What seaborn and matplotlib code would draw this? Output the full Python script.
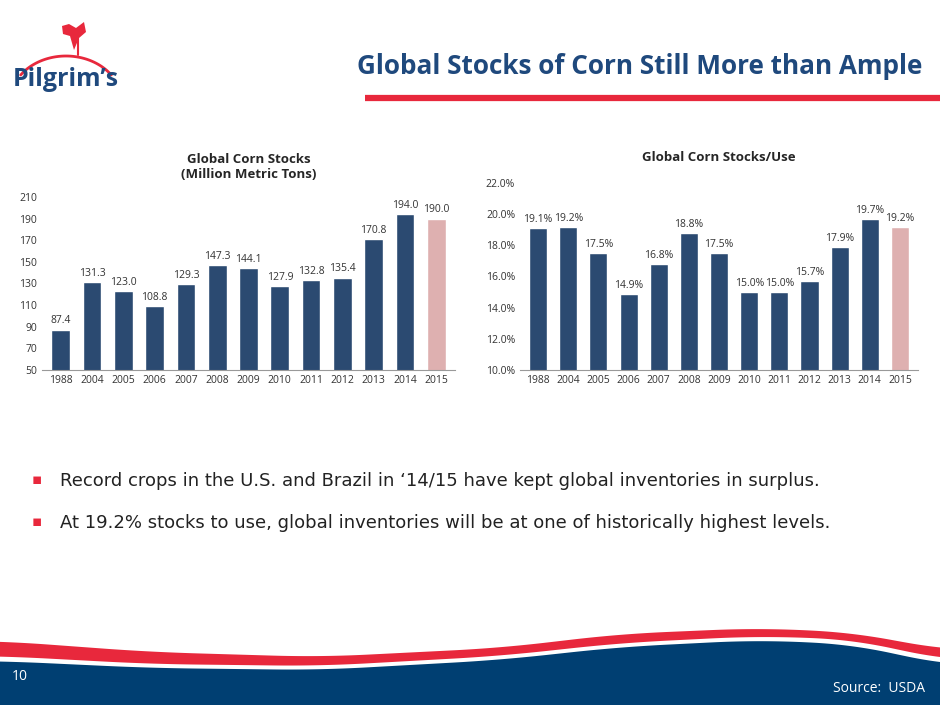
import matplotlib
matplotlib.use("Agg")
import matplotlib.pyplot as plt
import numpy as np
import pandas as pd
import seaborn as sns

years = ["1988", "2004", "2005", "2006", "2007", "2008", "2009", "2010", "2011", "2012", "2013", "2014", "2015"]
stocks = [87.4, 131.3, 123.0, 108.8, 129.3, 147.3, 144.1, 127.9, 132.8, 135.4, 170.8, 194.0, 190.0]
stocks_use = [19.1, 19.2, 17.5, 14.9, 16.8, 18.8, 17.5, 15.0, 15.0, 15.7, 17.9, 19.7, 19.2]

NAVY = "#1F497D"
PINK = "#E6A9A8"
RED = "#E8283C"
DARK = "#003F72"

sns.set_style("white")
plt.rcParams["font.family"] = ["Open Sans", "DejaVu Sans"]

fig = plt.figure(figsize=(9.4, 7.05), dpi=100)
W, H = 940, 705

# background decoration layer in pixel coords
bg = fig.add_axes([0, 0, 1, 1])
bg.set_xlim(0, W)
bg.set_ylim(H, 0)
bg.axis("off")
bg.plot([365, 940], [98, 98], color=RED, lw=4.5, solid_capstyle="butt")

xs = np.linspace(0, W, 400)
def smooth(px, py):
    y = np.interp(xs, px, py)
    k = np.ones(41) / 41
    return np.convolve(np.pad(y, 20, mode="edge"), k, mode="valid")

cx = [0, 150, 320, 500, 620, 760, 860, 940]
red_top = smooth(cx, [641, 652, 657, 648, 634, 628, 633, 650])
red_bot = smooth(cx, [656, 664, 666, 656, 643, 636, 640, 660])
blue_top = smooth(cx, [661, 668, 670, 660, 647, 640, 645, 665])
bg.fill_between(xs, red_top, red_bot, color=RED, lw=0)
bg.fill_between(xs, blue_top, H, color=DARK, lw=0)
bg.text(12, 676, "10", color="white", fontsize=10, va="center")
bg.text(925, 688, "Source:  USDA", color="white", fontsize=10, ha="right", va="center")

# title and logo
bg.text(922, 66, "Global Stocks of Corn Still More than Ample", color=NAVY, fontsize=18.8,
        fontweight="bold", ha="right", va="center")
bg.text(66, 80, "Pilgrim\u2019s", color=NAVY, fontsize=18, fontweight="bold", ha="center", va="center")
t = np.linspace(0.2 * np.pi, 0.8 * np.pi, 60)
bg.plot(66 + 56 * np.cos(t), 102 - 46 * np.sin(t), color=RED, lw=2)
bg.fill([74, 70, 63, 62, 69, 76, 84, 86, 79], [50, 36, 34, 26, 24, 28, 22, 32, 38], color=RED, lw=0)
bg.plot([78, 78], [38, 55], color=RED, lw=1.5)

# bullets
for y, s in [(481, "Record crops in the U.S. and Brazil in \u201814/15 have kept global inventories in surplus."),
             (523, "At 19.2% stocks to use, global inventories will be at one of historically highest levels.")]:
    bg.text(32, y, "\u25aa", color=RED, fontsize=11, va="center")
    bg.text(60, y, s, color="#222222", fontsize=13, va="center", family=["DejaVu Sans"])

palette = [NAVY] * (len(years) - 1) + [PINK]

# left chart
ax1 = fig.add_axes([42 / W, 1 - 370 / H, (455 - 42) / W, (370 - 197) / H])
df1 = pd.DataFrame({"year": years, "v": stocks})
sns.barplot(data=df1, x="year", y="v", hue="year", palette=palette, legend=False, ax=ax1, width=0.6)
ax1.set_ylim(50, 210)
ax1.set_yticks(range(50, 211, 20))
for i, v in enumerate(stocks):
    ax1.text(i, v + 3, f"{v:.1f}", ha="center", va="bottom", fontsize=7.5, color="#333333")
ax1.set_title("Global Corn Stocks\n(Million Metric Tons)", fontsize=9.5, fontweight="bold", pad=14)

# right chart
ax2 = fig.add_axes([520 / W, 1 - 370 / H, (918 - 520) / W, (370 - 183) / H])
df2 = pd.DataFrame({"year": years, "v": stocks_use})
sns.barplot(data=df2, x="year", y="v", hue="year", palette=palette, legend=False, ax=ax2, width=0.6)
ax2.set_ylim(10, 22)
ax2.set_yticks(np.arange(10, 22.1, 2))
ax2.set_yticklabels([f"{v:.1f}%" for v in np.arange(10, 22.1, 2)])
for i, v in enumerate(stocks_use):
    ax2.text(i, v + 0.2, f"{v:.1f}%", ha="center", va="bottom", fontsize=7.5, color="#333333")
ax2.set_title("Global Corn Stocks/Use", fontsize=9.5, fontweight="bold", pad=16)

for ax in (ax1, ax2):
    ax.set_xlabel("")
    ax.set_ylabel("")
    ax.tick_params(axis="both", labelsize=7.5, length=0, colors="#333333")
    for s in ["top", "right", "left"]:
        ax.spines[s].set_visible(False)
    ax.spines["bottom"].set_color("#999999")
    ax.set_xlim(-0.6, len(years) - 0.4)

fig.savefig("out.png", dpi=100)
